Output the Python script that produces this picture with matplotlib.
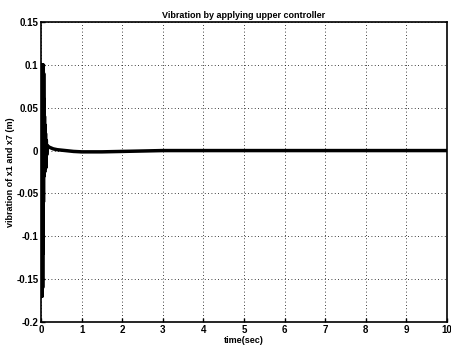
import matplotlib.pyplot as plt

# burst of oscillation right after t=0
t_burst = [0.0, 0.005, 0.01, 0.015, 0.02, 0.025, 0.03, 0.035, 0.04, 0.045,
           0.05, 0.055, 0.06, 0.065, 0.07, 0.075, 0.08, 0.085, 0.09, 0.095,
           0.10, 0.11, 0.12, 0.13, 0.14]
x_burst = [0.0, 0.10, -0.17, 0.10, -0.17, 0.10, -0.17, 0.10, -0.16, 0.10,
           -0.12, 0.10, -0.06, 0.09, -0.03, 0.06, -0.025, 0.04, -0.025, 0.03,
           -0.02, 0.02, -0.02, 0.012, -0.005]

# slow settling afterwards
t_tail = [0.15, 0.2, 0.3, 0.4, 0.6, 0.8, 1.0, 1.5, 2.0, 2.5, 3.0, 4.0, 6.0, 8.0, 10.0]
x_tail = [0.006, 0.004, 0.002, 0.001, 0.0, -0.001, -0.0015, -0.0015, -0.001,
          -0.0005, 0.0, 0.0, 0.0, 0.0, 0.0]

xticks = list(range(0, 11))
yticks = [-0.2, -0.15, -0.1, -0.05, 0, 0.05, 0.1, 0.15]
ylabels = ['-0.2', '-0.15', '-0.1', '-0.05', '0', '0.05', '0.1', '0.15']

plt.rcParams['font.family'] = ['Liberation Sans', 'DejaVu Sans']
plt.rcParams['font.weight'] = 'bold'

fig = plt.figure(figsize=(4.51, 3.45), dpi=100)
ax = fig.add_axes([0.091, 0.067, 0.9, 0.869])

t = t_burst + t_tail
x = x_burst + x_tail
ax.plot(t, x, color='black', linewidth=2.5)

ax.set_xlim(0, 10)
ax.set_ylim(-0.2, 0.15)
ax.set_xticks(xticks)
ax.set_xticklabels([str(v) for v in xticks], fontsize=7, fontweight='bold')
ax.set_yticks(yticks)
ax.set_yticklabels(ylabels, fontsize=7, fontweight='bold')
ax.tick_params(direction='in', length=3, width=1, pad=2)
ax.grid(True, linestyle=(0, (1, 3)), color='black', linewidth=0.6)
for s in ax.spines.values():
    s.set_linewidth(1.2)

ax.set_title('Vibration by applying upper controller', fontsize=6.5, fontweight='bold', pad=3)
ax.set_xlabel('time(sec)', fontsize=6.5, fontweight='bold', labelpad=1)
ax.set_ylabel('vibration of x1 and x7 (m)', fontsize=6.5, fontweight='bold', labelpad=1)

fig.savefig('out.png', dpi=100)
